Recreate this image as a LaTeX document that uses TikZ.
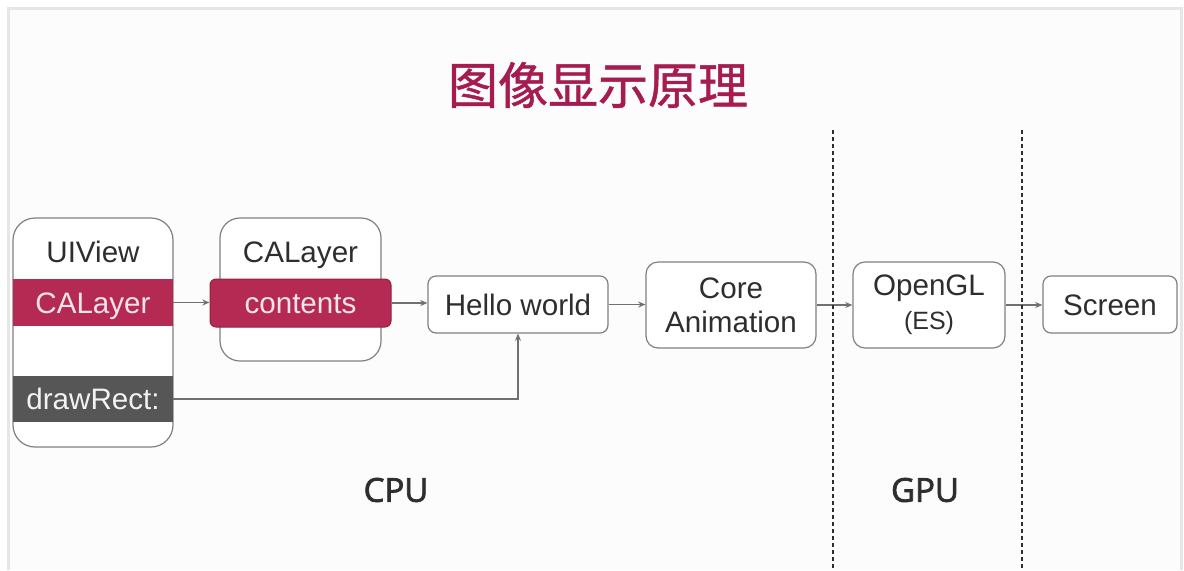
\documentclass[tikz,border=0pt]{standalone}
\usepackage{fontspec}
\setmainfont{Liberation Sans}
\newfontfamily\cjkfont{Noto Sans CJK SC}[FakeBold=1]
\newfontfamily\osfont{Open Sans}[FakeBold=2.2]
\usetikzlibrary{arrows.meta}
\definecolor{slidebg}{HTML}{FCFCFC}
\definecolor{framegray}{HTML}{E6E6E6}
\definecolor{boxgray}{HTML}{808080}
\definecolor{linegray}{HTML}{707070}
\definecolor{txt}{HTML}{2E2E2E}
\definecolor{bandred}{HTML}{B52A52}
\definecolor{banddark}{HTML}{565656}
\definecolor{titlered}{HTML}{A61C50}
\definecolor{bandtext}{HTML}{F6E4EA}
\newcommand{\lblfont}{\fontsize{14.8}{16.8}\selectfont}
\begin{document}
\begin{tikzpicture}[x=0.5pt,y=-0.5pt,
  box/.style={draw=boxgray, line width=0.6pt, fill=white, align=center,
    text=txt, font=\lblfont, inner sep=0pt},
  capsmid/.style={text height=10.6pt, text depth=0pt},
  band/.style={inner sep=0pt, font=\lblfont, minimum width=80pt, minimum height=23.5pt, capsmid},
  conn/.style={draw=linegray, line width=0.6pt, -{Stealth[length=3.6pt,width=3pt]}},
  divider/.style={draw=txt, line width=0.7pt, dash pattern=on 2pt off 1.5pt},
  caption/.style={font=\osfont\fontsize{16.5}{18}\selectfont, text=txt}]
\useasboundingbox (0,0) rectangle (1184,570);
% slide frame
\fill[white] (0,0) rectangle (1184,570);
\fill[slidebg] (8,8) rectangle (1181,570);
\draw[framegray, line width=1.5pt] (8,570) -- (8,8) -- (1181,8) -- (1181,570);

% title
\node[font=\cjkfont\fontsize{25}{28}\selectfont, text=titlered] (title) at (598,85) {图像显示原理};

% UIView container
\node[box, rounded corners=11pt, minimum width=80pt, minimum height=114.5pt] (uiview) at (93,332.5) {};
\node[text=txt, font=\lblfont, capsmid, inner sep=0pt] (uiviewlbl) at (93,252) {UIView};
\node[band, fill=bandred, text=bandtext] (uvlayer) at (93,302.5) {CALayer};
\node[band, fill=banddark, minimum height=23pt, text=white!90!gray] (drawrect) at (93,399) {drawRect:};

% CALayer container
\node[box, rounded corners=10pt, minimum width=80.5pt, minimum height=71.5pt] (calayer) at (300.5,289.5) {};
\node[text=txt, font=\lblfont, capsmid, inner sep=0pt] (calayerlbl) at (300.5,252) {CALayer};
\node[inner sep=0pt, font=\lblfont, fill=bandred, draw=bandred!80!black, line width=0.5pt, capsmid,
  rounded corners=3pt, minimum width=90.5pt, minimum height=24pt, text=bandtext] (contents) at (300.5,303) {contents};

% pipeline
\node[box, capsmid, rounded corners=4pt, minimum width=90pt, minimum height=28.5pt] (hello) at (518,304.5) {Hello world};
\node[box, rounded corners=6pt, minimum width=85pt, minimum height=43pt] (coreanim) at (731,305) {Core\\Animation};
\node[box, rounded corners=6pt, minimum width=76pt, minimum height=43pt] (opengl) at (929,305) {OpenGL\\{\fontsize{12.5}{16}\selectfont (ES)}};
\node[box, capsmid, rounded corners=4pt, minimum width=67pt, minimum height=28.5pt] (screen) at (1110,304.5) {Screen};

% connectors
\draw[conn] (uvlayer.east) -- (uvlayer.east -| contents.west);
\draw[conn] (contents.east) -- (contents.east -| hello.west);
\draw[conn] (drawrect.east) -| (hello.south);
\draw[conn] (hello.east) -- (hello.east -| coreanim.west);
\draw[conn] (coreanim.east) -- (coreanim.east -| opengl.west);
\draw[conn] (opengl.east) -- (opengl.east -| screen.west);

% CPU / GPU dividers
\coordinate (div1top) at (833,130);
\coordinate (div1bot) at (833,570);
\coordinate (div2top) at (1022,130);
\coordinate (div2bot) at (1022,570);
\draw[divider] (div1top) -- (div1bot);
\draw[divider] (div2top) -- (div2bot);

\node[caption] (cpu) at (396,490) {CPU};
\node[caption] (gpu) at (925,490) {GPU};
\end{tikzpicture}
\end{document}
